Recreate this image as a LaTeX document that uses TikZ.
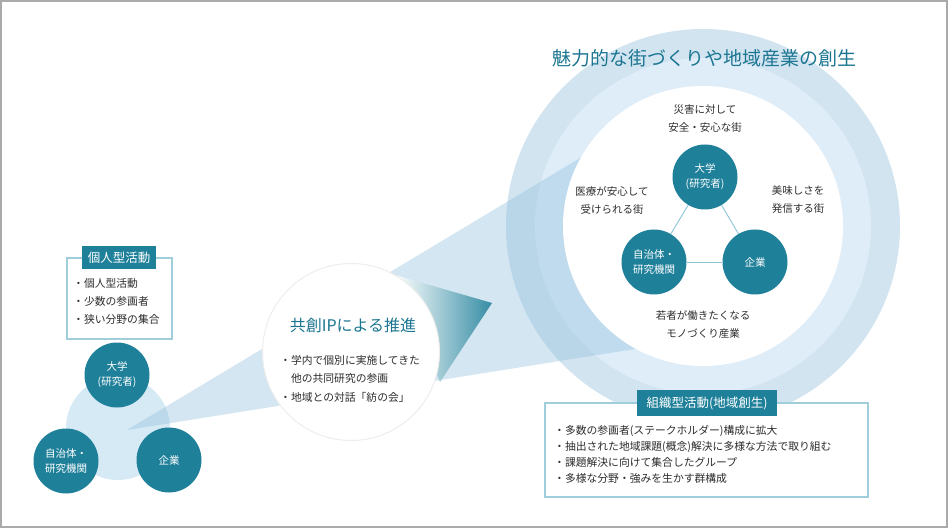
\documentclass[tikz,border=0pt]{standalone}
\usepackage{fontspec}
\setmainfont{Noto Sans CJK JP}
\usetikzlibrary{positioning}

\definecolor{tealdark}{RGB}{31,128,154}
\definecolor{tealtitle}{RGB}{28,118,146}
\definecolor{ringout}{RGB}{211,228,241}
\definecolor{ringin}{RGB}{223,237,249}
\definecolor{beamblue}{RGB}{150,195,222}
\definecolor{paleblue}{RGB}{214,234,246}
\definecolor{boxline}{RGB}{160,205,220}
\definecolor{linkblue}{RGB}{140,196,214}
\definecolor{framegray}{RGB}{170,170,170}
\definecolor{inkgray}{RGB}{45,45,45}

\newcommand{\fs}[2]{\fontsize{#1}{#2}\selectfont}

\begin{document}
\begin{tikzpicture}[x=1pt,y=-1pt,
  actor/.style={circle,fill=tealdark,text=white,minimum size=65pt,inner sep=0pt,
    align=center,font=\fs{10.5}{15}},
  link/.style={draw=linkblue,line width=0.9pt},
  tab/.style={fill=tealdark,text=white,font=\fs{12.5}{14},inner sep=0pt},
  frame/.style={draw=boxline,line width=1.2pt,fill=white},
  body/.style={text=inkgray,align=left,inner sep=0pt},
  place/.style={text=inkgray,align=center,inner sep=0pt,font=\fs{10.5}{18}}]
  \useasboundingbox (0,0) rectangle (950,529);
  \draw [framegray,line width=1.5pt] (1,1) rectangle (947,527);

  % big circle
  \fill [ringout] (703,226) circle (197pt);
  \fill [ringin] (703,226) circle (168pt);

  % left group background
  \fill [paleblue] (118,428) circle (52pt);

  % beam
  \fill [beamblue,fill opacity=0.42] (127,430) -- (600,146) -- (660,345) -- cycle;

  \shade [left color=white,middle color=beamblue!40,right color=tealdark!90]
    (395,275) -- (492,303) -- (440,382) -- cycle;
  \fill [white,draw=black!7,line width=1pt] (351,352) circle (88.5pt);
  \fill [white] (703,226) circle (140pt);

  \node [text=tealtitle,font=\fs{19}{20}] (goal) at (704,58) {魅力的な街づくりや地域産業の創生};

  % triangle in the big circle
  \node [actor] (buni) at (705,177) {大学\\(研究者)};
  \node [actor] (bgov) at (654,262) {自治体・\\研究機関};
  \node [actor] (bcorp) at (755,262) {企業};
  \draw [link] (buni) -- (bgov);
  \draw [link] (buni) -- (bcorp);
  \draw [link] (bgov) -- (bcorp);

  \node [place] (safe) at (705,119) {災害に対して\\安全・安心な街};
  \node [place] (care) at (612,200) {医療が安心して\\受けられる街};
  \node [place] (taste) at (798,200) {美味しさを\\発信する街};
  \node [place] (work) at (703,324) {若者が働きたくなる\\モノづくり産業};

  % left group
  \node [actor] (uni) at (117,375) {大学\\(研究者)};
  \node [actor] (gov) at (66,461) {自治体・\\研究機関};
  \node [actor] (corp) at (169,460) {企業};

  \draw [frame] (67,258) rectangle (172,339);
  \node [tab,minimum width=74pt,minimum height=23pt] (solotab) at (119,257.5) {個人型活動};
  \node [body,anchor=west,font=\fs{10.8}{18}] (solo) at (73,301)
    {・個人型活動\\・少数の参画者\\・狭い分野の集合};

  % middle circle
  \node [text=tealtitle,font=\fs{16}{18}] (ip) at (353,325) {共創IPによる推進};
  \node [body,anchor=west,font=\fs{10.8}{18.5}] (ipbody) at (280,378.5)
    {・学内で個別に実施してきた\\\hspace*{1em}他の共同研究の参画\\・地域との対話「紡の会」};

  % bottom box
  \draw [frame] (545,403) rectangle (868,497);
  \node [tab,minimum width=140pt,minimum height=26pt] (teamtab) at (707,403) {組織型活動(地域創生)};
  \node [body,anchor=west,font=\fs{10.8}{16}] (team) at (554,454)
    {・多数の参画者(ステークホルダー)構成に拡大\\・抽出された地域課題(概念)解決に多様な方法で取り組む\\・課題解決に向けて集合したグループ\\・多様な分野・強みを生かす群構成};
\end{tikzpicture}
\end{document}
